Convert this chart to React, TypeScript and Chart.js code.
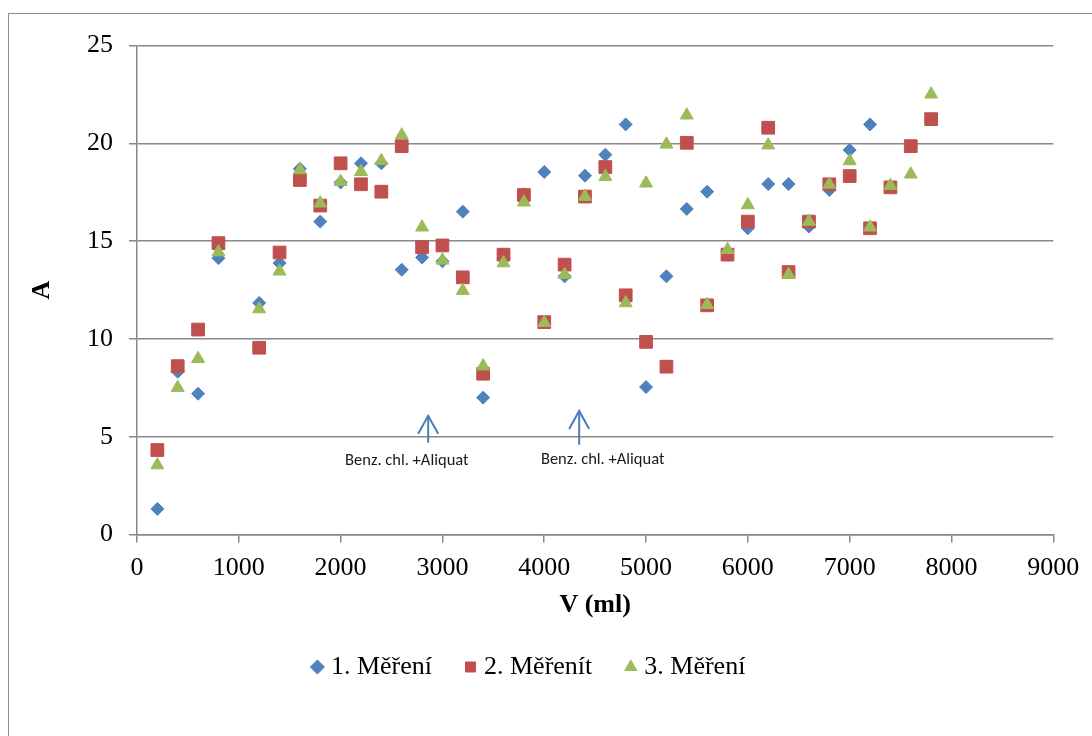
import { useEffect, useRef } from "react";
import { Chart, registerables } from "chart.js";

Chart.register(...registerables);

// ---- data ----
const volumes = [
  200, 400, 600, 800, 1200, 1400, 1600, 1800, 2000, 2200, 2400, 2600, 2800, 3000,
  3200, 3400, 3600, 3800, 4000, 4200, 4400, 4600, 4800, 5000, 5200, 5400, 5600,
  5800, 6000, 6200, 6400, 6600, 6800, 7000, 7200, 7400, 7600, 7800,
];

const mereni1 = [
  1.31, 8.32, 7.2, 14.13, 11.84, 13.88, 18.7, 16.0, 18.0, 18.98, 18.98, 13.54, 14.17, 13.97,
  16.51, 7.0, 14.1, 17.4, 18.54, 13.2, 18.35, 19.42, 20.97, 7.54, 13.2, 16.65, 17.53,
  14.4, 15.66, 17.92, 17.92, 15.75, 17.62, 19.66, 20.97, null, null, null,
];

const mereni2 = [
  4.32, 8.61, 10.48, 14.9, 9.55, 14.42, 18.13, 16.82, 18.98, 17.91, 17.53, 19.86, 14.69, 14.78,
  13.15, 8.22, 14.31, 17.36, 10.86, 13.8, 17.28, 18.79, 12.23, 9.85, 8.58, 20.03, 11.72,
  14.31, 16.0, 20.8, 13.42, 16.0, 17.91, 18.33, 15.66, 17.75, 19.86, 21.24,
];

const mereni3 = [
  3.55, 7.51, 8.99, 14.44, 11.53, 13.46, 18.64, 16.94, 18.04, 18.55, 19.11, 20.42, 15.71, 14.02,
  12.47, 8.61, 13.88, 16.99, 10.83, 13.29, 17.28, 18.3, 11.84, 17.96, 19.95, 21.44, 11.75,
  14.56, 16.85, 19.91, 13.29, 16.0, 17.9, 19.1, 15.71, 17.84, 18.42, 22.51,
];

const seriesNames = ["1. Měření", "2. Měřenít", "3. Měření"];

const xTicks = [0, 1000, 2000, 3000, 4000, 5000, 6000, 7000, 8000, 9000];
const yTicks = [0, 5, 10, 15, 20, 25];

// annotations (arrows + notes), in data units
const arrowX = [2860, 4343];
const arrowFromY = [4.7, 4.59];
const arrowToY = [6.07, 6.32];
const noteX = [2650, 4574];
const noteY = [3.77, 3.82];
const noteText = ["Benz. chl. +Aliquat", "Benz. chl. +Aliquat"];

// ---- styles ----
const SERIF = "'Times New Roman', 'Liberation Serif', serif";
const GRID = "#888888";
const BLUE = "#4F81BD";
const RED = "#C0504D";
const GREEN = "#9BBB59";
const ARROW = "#4A7EBB";

const toPoints = (vals: (number | null)[]) =>
  volumes
    .map((v, i) => ({ x: v, y: vals[i] }))
    .filter((p) => p.y !== null) as { x: number; y: number }[];

const annotationPlugin = {
  id: "notes",
  afterDatasetsDraw(chart: any) {
    const { ctx } = chart;
    const xs = chart.scales.x;
    const ys = chart.scales.y;
    ctx.save();
    ctx.strokeStyle = ARROW;
    ctx.lineWidth = 2;
    ctx.lineCap = "butt";
    arrowX.forEach((v, i) => {
      const px = xs.getPixelForValue(v);
      const yb = ys.getPixelForValue(arrowFromY[i]);
      const yt = ys.getPixelForValue(arrowToY[i]);
      ctx.beginPath();
      ctx.moveTo(px, yb);
      ctx.lineTo(px, yt);
      ctx.stroke();
      ctx.beginPath();
      ctx.moveTo(px - 10, yt + 18);
      ctx.lineTo(px, yt);
      ctx.lineTo(px + 10, yt + 18);
      ctx.stroke();
    });
    ctx.fillStyle = "#1a1a1a";
    ctx.font = "16.5px Calibri, Carlito, Lato, sans-serif";
    ctx.textAlign = "center";
    ctx.textBaseline = "middle";
    noteX.forEach((v, i) => {
      ctx.fillText(noteText[i], xs.getPixelForValue(v), ys.getPixelForValue(noteY[i]));
    });
    ctx.restore();
  },
};

export default function App() {
  const ref = useRef<HTMLCanvasElement | null>(null);

  useEffect(() => {
    if (!ref.current) return;
    Chart.defaults.font.family = SERIF;
    const chart = new Chart(ref.current, {
      type: "scatter",
      data: {
        datasets: [
          {
            label: seriesNames[0],
            data: toPoints(mereni1),
            pointStyle: "rectRot",
            pointRadius: 6.5,
            pointHoverRadius: 6.5,
            backgroundColor: BLUE,
            borderColor: BLUE,
            borderWidth: 1,
            order: 3,
          },
          {
            label: seriesNames[1],
            data: toPoints(mereni2),
            pointStyle: "rect",
            pointRadius: 9,
            pointHoverRadius: 9,
            backgroundColor: RED,
            borderColor: RED,
            borderWidth: 1,
            order: 2,
          },
          {
            label: seriesNames[2],
            data: toPoints(mereni3),
            pointStyle: "triangle",
            pointRadius: 7.5,
            pointHoverRadius: 7.5,
            backgroundColor: GREEN,
            borderColor: GREEN,
            borderWidth: 1,
            order: 1,
          },
        ],
      },
      options: {
        responsive: false,
        animation: false,
        events: [],
        layout: { padding: { left: 0, right: 38.7, top: 29.5, bottom: 46 } },
        scales: {
          x: {
            type: "linear",
            min: 0,
            max: 9000,
            afterBuildTicks: (s: any) => {
              s.ticks = xTicks.map((v) => ({ value: v }));
            },
            afterFit: (s: any) => {
              s.height = 81.5;
            },
            ticks: {
              color: "#000",
              font: { size: 26, family: SERIF },
              padding: 10,
              maxRotation: 0,
              autoSkip: false,
              callback: (v: any) => String(v),
            },
            grid: {
              drawOnChartArea: false,
              drawTicks: true,
              tickLength: 8,
              color: GRID,
              lineWidth: 1.5,
            },
            border: { display: true, color: GRID, width: 1.5 },
            title: {
              display: true,
              text: "V (ml)",
              color: "#000",
              font: { size: 26, weight: "bold", family: SERIF },
              padding: { top: 0, bottom: -4.9 },
            },
          },
          y: {
            type: "linear",
            min: 0,
            max: 25,
            afterBuildTicks: (s: any) => {
              s.ticks = yTicks.map((v) => ({ value: v }));
            },
            afterFit: (s: any) => {
              s.width = 128;
            },
            ticks: {
              color: "#000",
              font: { size: 26, family: SERIF },
              padding: 16,
              callback: (v: any) => String(v),
            },
            grid: {
              drawOnChartArea: true,
              drawTicks: true,
              tickLength: 8,
              color: GRID,
              lineWidth: 1.5,
            },
            border: { display: true, color: GRID, width: 1.5 },
            title: {
              display: true,
              text: "A",
              color: "#000",
              font: { size: 26, weight: "bold", family: SERIF },
              padding: { top: 18, bottom: 0 },
            },
          },
        },
        plugins: {
          tooltip: { enabled: false },
          legend: {
            display: true,
            position: "bottom",
            labels: {
              usePointStyle: true,
              boxWidth: 1,
              boxHeight: 10,
              padding: 38,
              color: "#000",
              font: { size: 26, family: SERIF },
              sort: (a: any, b: any) => a.datasetIndex - b.datasetIndex,
            },
          },
        },
      },
      plugins: [annotationPlugin],
    } as any);
    return () => chart.destroy();
  }, []);

  return (
    <div
      style={{
        position: "fixed",
        left: 8,
        top: 13,
        width: 1084,
        height: 723,
        boxSizing: "border-box",
        borderLeft: "1px solid #8c8c8c",
        borderTop: "1px solid #8c8c8c",
        overflow: "hidden",
        background: "#fff",
      }}
    >
      <canvas
        ref={ref}
        width={1083}
        height={722}
        style={{ display: "block", width: 1083, height: 722 }}
      />
    </div>
  );
}
